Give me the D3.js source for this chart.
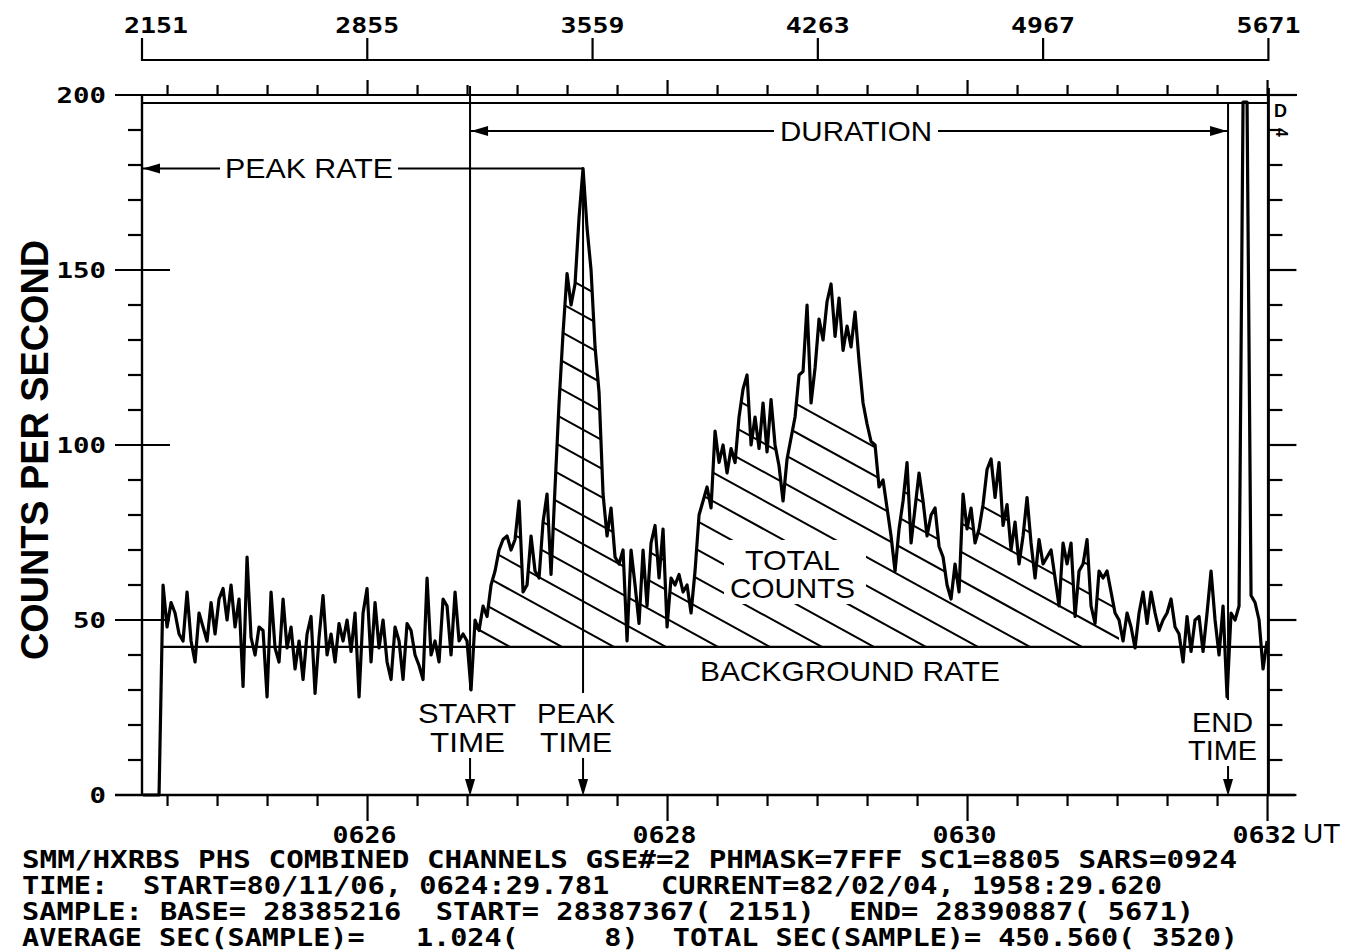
<!DOCTYPE html>
<html><head><meta charset="utf-8">
<script src="https://cdn.jsdelivr.net/npm/d3@7"></script>
<style>body{margin:0;background:#fff}svg{display:block}</style>
</head><body>
<svg id="c" width="1351" height="951"></svg>
<script>
// ---------------- DATA ----------------
// time in seconds after 06:24:00 UT
const tStart = 29.78, tEnd = 480.34;           // START 0624:29.781, 450.56 s
const sampleStart = 2151, secPerSample = 0.128;
const topTickSamples = [2151, 2855, 3559, 4263, 4967, 5671];
const bottomTickTimes = [120, 240, 360, 480];
const bottomTickLabels = ["0626", "0628", "0630", "0632"];
const yMajorTicks = [0, 50, 100, 150, 200];
const yTickLabels = ["0", "50", "100", "150", "200"];
const countsStart = 30.2, countsStep = 1.6;    // one value every 1.6 s
const counts = [
  0, 0, 0, 0, 0, 60, 48, 55, 52, 46,
  44, 58, 44, 38, 52, 48, 44, 55, 46, 56,
  59, 50, 60, 48, 56, 31, 68, 45, 40, 48,
  47, 28, 58, 42, 38, 56, 42, 48, 36, 44,
  33, 46, 51, 29, 45, 57, 40, 46, 38, 49,
  44, 50, 41, 52, 28, 52, 59, 38, 55, 42,
  50, 38, 33, 48, 44, 33, 49, 47, 40, 37,
  33, 62, 40, 44, 38, 56, 54, 40, 58, 44,
  46, 44, 30, 50, 47, 54, 51, 60, 64, 70,
  73, 74, 70, 73, 84, 58, 60, 74, 64, 62,
  78, 86, 63, 88, 112, 132, 149, 140, 146, 165,
  179, 162, 150, 128, 115, 86, 74, 82, 68, 66,
  70, 44, 70, 60, 49, 70, 54, 72, 77, 62,
  76, 48, 62, 60, 63, 58, 60, 52, 64, 80,
  84, 88, 82, 104, 95, 100, 92, 99, 95, 108,
  116, 120, 100, 108, 99, 112, 98, 113, 100, 94,
  84, 96, 102, 108, 120, 121, 140, 112, 122, 136,
  130, 141, 146, 131, 142, 127, 134, 128, 138, 124,
  112, 106, 101, 100, 88, 90, 82, 74, 64, 76,
  84, 95, 72, 82, 92, 84, 74, 80, 82, 71,
  68, 60, 56, 66, 58, 86, 76, 82, 72, 76,
  83, 93, 96, 85, 95, 77, 83, 70, 78, 66,
  74, 85, 72, 62, 73, 66, 68, 70, 62, 54,
  72, 66, 72, 51, 64, 66, 73, 54, 49, 64,
  62, 64, 58, 52, 50, 44, 52, 48, 42, 52,
  58, 49, 58, 52, 47, 50, 52, 56, 48, 46,
  38, 51, 41, 50, 51, 41, 52, 64, 50, 40,
  54, 28, 52, 50, 54, 198, 198, 57, 55, 50,
  36, 44
];
const backgroundRate = 42.3;
const peakRate = 179;
const durationLevel = 189.7;
const startTime = 161.0, peakTime = 206.2, endTime = 464.2, hatchEndTime = 421;
const footerLines = [
  "SMM/HXRBS PHS COMBINED CHANNELS GSE#=2 PHMASK=7FFF SC1=8805 SARS=0924",
  "TIME:  START=80/11/06, 0624:29.781   CURRENT=82/02/04, 1958:29.620",
  "SAMPLE: BASE= 28385216  START= 28387367( 2151)  END= 28390887( 5671)",
  "AVERAGE SEC(SAMPLE)=   1.024(     8)  TOTAL SEC(SAMPLE)= 450.560( 3520)"
];
const footerWidths = [1215, 1140, 1172, 1216];

// ---------------- CHART ----------------
const svg = d3.select("#c");
const x = d3.scaleLinear().domain([tStart, tEnd]).range([142, 1268.4]);
const y = d3.scaleLinear().domain([0, 200]).range([795, 95]);
const sans = "'Liberation Sans', Arial, Helvetica, sans-serif";
const mono = "'DejaVu Sans Mono', 'Liberation Mono', monospace";
const pts = counts.map((v, i) => ({t: countsStart + i * countsStep, v}));

const g = svg.append("g");
const line = (x1, y1, x2, y2, w = 2) => g.append("line").attr("x1", x1).attr("y1", y1)
  .attr("x2", x2).attr("y2", y2).attr("stroke", "#000").attr("stroke-width", w);
function arrow(xt, yt, dir) {
  const L = 17, W = 5;
  let p;
  if (dir === "left") p = [[xt, yt], [xt + L, yt - W], [xt + L, yt + W]];
  else if (dir === "right") p = [[xt, yt], [xt - L, yt - W], [xt - L, yt + W]];
  else p = [[xt, yt], [xt - W, yt - L], [xt + W, yt - L]];
  g.append("path").attr("d", "M" + p.join("L") + "Z").attr("fill", "#000");
}

// hatched total counts region
const defs = svg.append("defs");
const hatchPts = pts.filter(d => d.t >= startTime - 1 && d.t <= hatchEndTime);
const area = d3.area().x(d => x(d.t)).y0(y(backgroundRate)).y1(d => y(Math.max(d.v, backgroundRate)));
defs.append("clipPath").attr("id", "hclip").append("path").attr("d", area(hatchPts));
defs.append("clipPath").attr("id", "hclip2").append("rect").attr("x", x(startTime)).attr("y", 0)
  .attr("width", x(hatchEndTime) - x(startTime)).attr("height", 951);
const hg = g.append("g").attr("clip-path", "url(#hclip2)").append("g").attr("clip-path", "url(#hclip)");
const slope = 0.55, spacing = 52, x0 = 510, yb = y(backgroundRate);
for (let k = -20; k <= 14; k++) {
  const xk = x0 + k * spacing;
  hg.append("line").attr("x1", xk - 900).attr("y1", yb - 900 * slope)
    .attr("x2", xk + 10).attr("y2", yb + 10 * slope)
    .attr("stroke", "#000").attr("stroke-width", 2);
}
g.append("rect").attr("x", 724).attr("y", 540).attr("width", 142).attr("height", 64).attr("fill", "#fff");

// frame lines
line(115, y(200), 1297, y(200), 2.2);
line(142, 103, 1268, 103, 2);
line(115, y(0), 1295, y(0), 2.4);
line(142, y(200), 142, y(0), 2.4);
line(x(tEnd), 88, x(tEnd), y(0), 3);

// y ticks
for (let v = 0; v <= 200; v += 10) {
  const major = v % 50 === 0;
  line(major ? 115 : 128, y(v), major ? 170 : 142, y(v), 2.2);
  line(x(tEnd), y(v), x(tEnd) + (major ? 28 : 14), y(v), 2.2);
}
g.selectAll(".yl").data(yMajorTicks).join("text")
  .attr("x", 106).attr("y", d => y(d) + 8).attr("text-anchor", "end")
  .attr("font-family", mono).attr("font-weight", "bold").attr("font-size", 22)
  .attr("textLength", (d, i) => yTickLabels[i].length * 16.5).attr("lengthAdjust", "spacingAndGlyphs")
  .text((d, i) => yTickLabels[i]);

// time ticks (every 20 s)
for (let t = 40; t <= 480; t += 20) {
  const major = t % 120 === 0;
  line(x(t), y(0), x(t), y(0) + (major ? 26 : 11), 2.2);
  line(x(t), y(200), x(t), y(200) - (major ? 15 : 10), 2.2);
}
g.selectAll(".bl").data(bottomTickTimes).join("text")
  .attr("x", d => x(d) - 3).attr("y", 843).attr("text-anchor", "middle")
  .attr("font-family", mono).attr("font-weight", "bold").attr("font-size", 23)
  .attr("textLength", 64).attr("lengthAdjust", "spacingAndGlyphs")
  .text((d, i) => bottomTickLabels[i]);
g.append("text").attr("x", 1303).attr("y", 843).attr("font-family", sans).attr("font-size", 28).text("UT");

// top sample axis
const tb = 60;
line(x(tStart), tb, x(tEnd), tb, 2.2);
topTickSamples.forEach(s => {
  const xs = x(tStart + (s - sampleStart) * secPerSample);
  line(xs, tb + 1, xs, 38, 2.2);
});
g.selectAll(".tl").data(topTickSamples).join("text")
  .attr("x", (d, i) => x(tStart + (d - sampleStart) * secPerSample) + (i === 0 ? 14 : 0))
  .attr("y", 33).attr("text-anchor", "middle")
  .attr("font-family", mono).attr("font-weight", "bold").attr("font-size", 22)
  .attr("textLength", 64).attr("lengthAdjust", "spacingAndGlyphs").text(d => d);

// background rate
line(x(countsStart + 5 * countsStep), y(backgroundRate), x(tEnd), y(backgroundRate), 2.2);

// annotation lines
line(x(startTime), 86, x(startTime), 690, 2);
line(x(peakTime), y(peakRate), x(peakTime), 693, 2);
line(x(endTime), 103, x(endTime), 700, 2);
line(142, y(peakRate), 220, y(peakRate), 2); arrow(143, y(peakRate), "left");
line(398, y(peakRate), x(peakTime), y(peakRate), 2);
line(x(startTime), y(durationLevel), 774, y(durationLevel), 2); arrow(x(startTime) + 1, y(durationLevel), "left");
line(938, y(durationLevel), x(endTime), y(durationLevel), 2); arrow(x(endTime) - 1, y(durationLevel), "right");
line(x(startTime), 758, x(startTime), 790, 2); arrow(x(startTime), 796, "down");
line(x(peakTime), 758, x(peakTime), 790, 2); arrow(x(peakTime), 796, "down");
line(x(endTime), 766, x(endTime), 790, 2); arrow(x(endTime), 796, "down");

// trace
const tr = d3.line().x(d => x(d.t)).y(d => y(d.v));
g.append("path").attr("d", tr(pts)).attr("fill", "none").attr("stroke", "#000")
  .attr("stroke-width", 3.2).attr("stroke-linejoin", "round");

// labels
function lab(txt, x1, x2, base, size = 28, weight = "normal") {
  g.append("text").attr("x", x1).attr("y", base).attr("font-family", sans).attr("font-size", size)
    .attr("font-weight", weight).attr("textLength", x2 - x1).attr("lengthAdjust", "spacingAndGlyphs").text(txt);
}
lab("PEAK RATE", 225, 393, 178);
lab("DURATION", 780, 932, 141);
lab("TOTAL", 745, 840, 570);
lab("COUNTS", 730, 855, 598);
lab("BACKGROUND RATE", 700, 1000, 681);
lab("START", 418, 516, 723);
lab("TIME", 430, 505, 752);
lab("PEAK", 537, 615, 723);
lab("TIME", 540, 612, 752);
lab("END", 1192, 1253, 732);
lab("TIME", 1188, 1257, 760);
g.append("text").attr("x", 1274).attr("y", 117).attr("font-family", sans).attr("font-weight", "bold")
  .attr("font-size", 18).text("D");
g.append("text").attr("transform", "translate(1276,128) rotate(90)").attr("font-family", sans)
  .attr("font-weight", "bold").attr("font-size", 16).text("4");

// y axis title
g.append("text").attr("transform", "translate(48,450) rotate(-90)").attr("text-anchor", "middle")
  .attr("font-family", sans).attr("font-weight", "bold").attr("font-size", 38)
  .attr("textLength", 420).attr("lengthAdjust", "spacingAndGlyphs").text("COUNTS PER SECOND");

// footer
footerLines.forEach((s, i) => {
  g.append("text").attr("x", 22).attr("y", 868 + i * 26).attr("xml:space", "preserve")
    .attr("font-family", mono).attr("font-weight", "bold").attr("font-size", 24)
    .attr("textLength", footerWidths[i]).attr("lengthAdjust", "spacingAndGlyphs").text(s);
});
</script>
</body></html>
